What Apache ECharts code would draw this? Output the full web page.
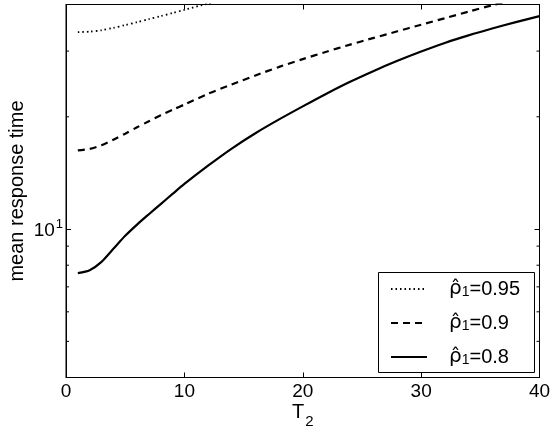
<!DOCTYPE html>
<html>
<head>
<meta charset="utf-8">
<script src="https://cdn.jsdelivr.net/npm/echarts@6/dist/echarts.min.js"></script>
<style>
  html, body { margin: 0; padding: 0; background: #fff; }
  #main { width: 556px; height: 429px; }
</style>
</head>
<body>
<div id="main"></div>
<script>
// T2 values along the x axis
var t2 = [1, 2, 3, 4, 5, 6, 7, 8, 9, 10, 12, 14, 16, 18, 20, 22, 24, 26, 28, 30, 32, 34, 36, 38, 40];

// mean response time
var rho095 = [33.73, 33.83, 34.12, 34.63, 35.22, 35.86, 36.53, 37.23, 37.96, 38.71, 40.24, 41.83];
var rho09 = [16.25, 16.40, 16.78, 17.36, 18.02, 18.74, 19.46, 20.20, 20.89, 21.57, 23.05, 24.42, 25.81,
             27.21, 28.55, 29.89, 31.23, 32.55, 33.90, 35.30, 36.75, 38.26, 39.81, 41.2, 42.9];
var rho08 = [7.62, 7.76, 8.17, 8.85, 9.59, 10.28, 10.96, 11.67, 12.42, 13.21, 14.79, 16.44, 18.07,
             19.68, 21.33, 23.07, 24.83, 26.55, 28.25, 29.92, 31.55, 33.06, 34.49, 35.87, 37.22];

var seriesNames = ['0.95', '0.9', '0.8'];
var yMajor = [10];
var yMinor = [5, 6, 7, 8, 9, 20, 30];

var xMin = 0, xMax = 40, yMin = 4, yMax = 40;

function pairs(vals) {
    return vals.map(function (v, i) { return [t2[i], v]; });
}

var font = 'Liberation Sans, Arial, Helvetica, sans-serif';
function tick() {
    return { show: true, inside: true, length: 5, lineStyle: { color: '#000', width: 1 } };
}
function line() {
    return { show: true, onZero: false, lineStyle: { color: '#000', width: 1 } };
}

var myChart = echarts.init(document.getElementById('main'));

var option = {
    backgroundColor: '#fff',
    animation: false,
    textStyle: { fontFamily: font, color: '#000' },
    grid: {
        left: 66, right: 16.5, top: 4.5, bottom: 51.5,
        outerBoundsMode: 'none', containLabel: false,
        show: true, borderColor: '#000', borderWidth: 1
    },
    // legend frame (the legend itself is drawn without border)
    graphic: [{
        type: 'rect', z: 3, silent: true,
        shape: { x: 378.5, y: 272.5, width: 156, height: 100 },
        style: { fill: '#fff', stroke: '#000', lineWidth: 1 }
    }],
    legend: {
        data: seriesNames,
        orient: 'vertical',
        left: 378,
        top: 272,
        z: 4,
        itemWidth: 36,
        itemHeight: 20,
        itemGap: 12,
        padding: [5, 11, 2, 12],
        borderWidth: 0,
        backgroundColor: 'transparent',
        selectedMode: false,
        itemStyle: { opacity: 0, color: 'rgba(0,0,0,0)', borderWidth: 0 },
        formatter: function (name) {
            return '{r|\u03C1\u0302}{s|1}{t|=' + name + '}';
        },
        textStyle: {
            fontFamily: font,
            fontSize: 20,
            color: '#000',
            rich: {
                r: { fontSize: 20, fontFamily: 'DejaVu Sans', lineHeight: 20, padding: [0, 0, 0, 17] },
                s: { fontSize: 14, verticalAlign: 'bottom', lineHeight: 20, padding: [8, 0, 0, 0] },
                t: { fontSize: 20, lineHeight: 20 }
            }
        }
    },
    xAxis: [
        {
            type: 'value', min: xMin, max: xMax, interval: 10,
            name: '{t|T}{s|2}', nameLocation: 'middle', nameGap: 18, nameMoveOverlap: false,
            nameTextStyle: {
                rich: {
                    t: { fontSize: 20, fontFamily: font, color: '#000' },
                    s: { fontSize: 15, fontFamily: font, color: '#000', padding: [19, 0, 0, 1] }
                }
            },
            axisLine: line(),
            axisTick: tick(),
            axisLabel: { fontSize: 19, color: '#000', margin: 5 },
            splitLine: { show: false }
        },
        {
            type: 'value', min: xMin, max: xMax, interval: 10, position: 'top',
            axisLine: line(),
            axisTick: tick(),
            axisLabel: { show: false },
            splitLine: { show: false }
        }
    ],
    yAxis: [
        {
            type: 'log', logBase: 10, min: yMin, max: yMax,
            name: 'mean response time', nameLocation: 'middle', nameGap: 39, nameMoveOverlap: false,
            nameTextStyle: { fontSize: 20, color: '#000' },
            axisLine: line(),
            axisTick: tick(),
            axisLabel: {
                margin: 3,
                fontSize: 19,
                color: '#000',
                formatter: function (v) {
                    return yMajor.some(function (m) { return Math.abs(v - m) < 1e-6; }) ? '{n|10}{e|1}' : '';
                },
                rich: {
                    n: { fontSize: 19, color: '#000', fontFamily: font, padding: [3, 0, 0, 0] },
                    e: { fontSize: 13, color: '#000', fontFamily: font, padding: [0, 0, 10, 1] }
                }
            },
            splitLine: { show: false }
        },
        {
            type: 'log', logBase: 10, min: yMin, max: yMax, position: 'right',
            axisLine: line(),
            axisTick: tick(),
            axisLabel: { show: false },
            splitLine: { show: false }
        }
    ],
    series: [
        {
            name: '0.95', type: 'line', smooth: 0.25, showSymbol: false, symbol: 'none',
            data: pairs(rho095),
            lineStyle: { color: '#000', width: 1.8, type: [1.5, 3] },
            itemStyle: { color: '#000' }
        },
        {
            name: '0.9', type: 'line', smooth: 0.25, showSymbol: false, symbol: 'none',
            data: pairs(rho09),
            lineStyle: { color: '#000', width: 2.2, type: [7, 5] },
            itemStyle: { color: '#000' }
        },
        {
            name: '0.8', type: 'line', smooth: 0.25, showSymbol: false, symbol: 'none',
            data: pairs(rho08),
            lineStyle: { color: '#000', width: 2.2, type: 'solid' },
            itemStyle: { color: '#000' }
        },
        {
            // minor ticks of the log axis, on both sides of the box
            name: 'minorTicks', type: 'custom', silent: true, clip: false, z: 5,
            data: yMinor.map(function (v) { return [xMin, v]; }),
            renderItem: function (params, api) {
                var p = api.coord([xMin, api.value(1)]);
                var q = api.coord([xMax, api.value(1)]);
                var st = { stroke: '#000', lineWidth: 1 };
                return {
                    type: 'group',
                    children: [
                        { type: 'line', shape: { x1: p[0], y1: p[1], x2: p[0] + 3, y2: p[1] }, style: st },
                        { type: 'line', shape: { x1: q[0], y1: q[1], x2: q[0] - 3, y2: q[1] }, style: st }
                    ]
                };
            }
        }
    ]
};

myChart.setOption(option);
</script>
</body>
</html>
